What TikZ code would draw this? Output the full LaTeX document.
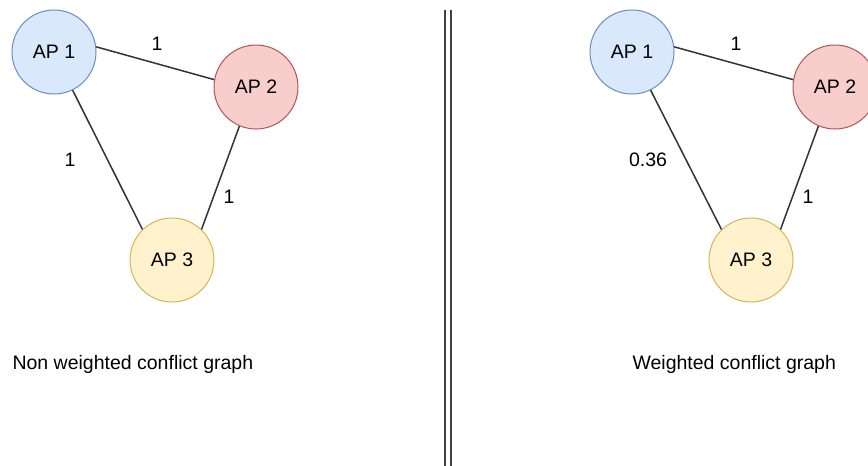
\documentclass[tikz,border=0pt]{standalone}
\usepackage{fontspec}
\setmainfont{Liberation Sans}
\usetikzlibrary{positioning}

\definecolor{apblue}{HTML}{DAE8FC}
\definecolor{apblueline}{HTML}{6C8EBF}
\definecolor{apred}{HTML}{F8CECC}
\definecolor{apredline}{HTML}{B85450}
\definecolor{apyellow}{HTML}{FFF2CC}
\definecolor{apyellowline}{HTML}{D6B656}

\begin{document}
\begin{tikzpicture}[x=1pt,y=-1pt,
  ap/.style={circle,draw,line width=1pt,minimum size=84pt,inner sep=0pt,font=\fontsize{19.5}{22}\selectfont},
  link/.style={line width=1.5pt,draw=black!80},
  wlabel/.style={font=\fontsize{19.5}{22}\selectfont},
  caption/.style={font=\fontsize{19.5}{22}\selectfont,anchor=west}
]
\useasboundingbox (0,0) rectangle (868,466);
\clip (0,0) rectangle (868,466);

% non weighted graph
\node[ap,fill=apblue,draw=apblueline] (l1) at (54,52) {AP 1};
\node[ap,fill=apred,draw=apredline] (l2) at (256,87) {AP 2};
\node[ap,fill=apyellow,draw=apyellowline] (l3) at (172,260) {AP 3};
\draw[link] (l1.7) -- (l2.170);
\draw[link] (l1.-64) -- (l3.134);
\draw[link] (l2.-113) -- (l3.46);
\node[wlabel] (l12) at (157,44) {1};
\node[wlabel] (l13) at (70,160) {1};
\node[wlabel] (l23) at (229,197) {1};
\node[caption] (lcap) at (9,364) {Non weighted conflict graph};

% separator
\coordinate (sepa) at (445,10);
\coordinate (sepb) at (445,466);
\coordinate (sepc) at (451,10);
\coordinate (sepd) at (451,466);
\draw[line width=1.5pt,draw=black!75] (sepa) -- (sepb);
\draw[line width=1.5pt,draw=black!75] (sepc) -- (sepd);

% weighted graph
\node[ap,fill=apblue,draw=apblueline] (r1) at (632,52) {AP 1};
\node[ap,fill=apred,draw=apredline] (r2) at (835,87) {AP 2};
\node[ap,fill=apyellow,draw=apyellowline] (r3) at (751,260) {AP 3};
\draw[link] (r1.7) -- (r2.170);
\draw[link] (r1.-64) -- (r3.134);
\draw[link] (r2.-113) -- (r3.46);
\node[wlabel] (r12) at (736,44) {1};
\node[wlabel] (r13) at (648,160) {0.36};
\node[wlabel] (r23) at (808,197) {1};
\node[caption] (rcap) at (629,364) {Weighted conflict graph};
\end{tikzpicture}
\end{document}
